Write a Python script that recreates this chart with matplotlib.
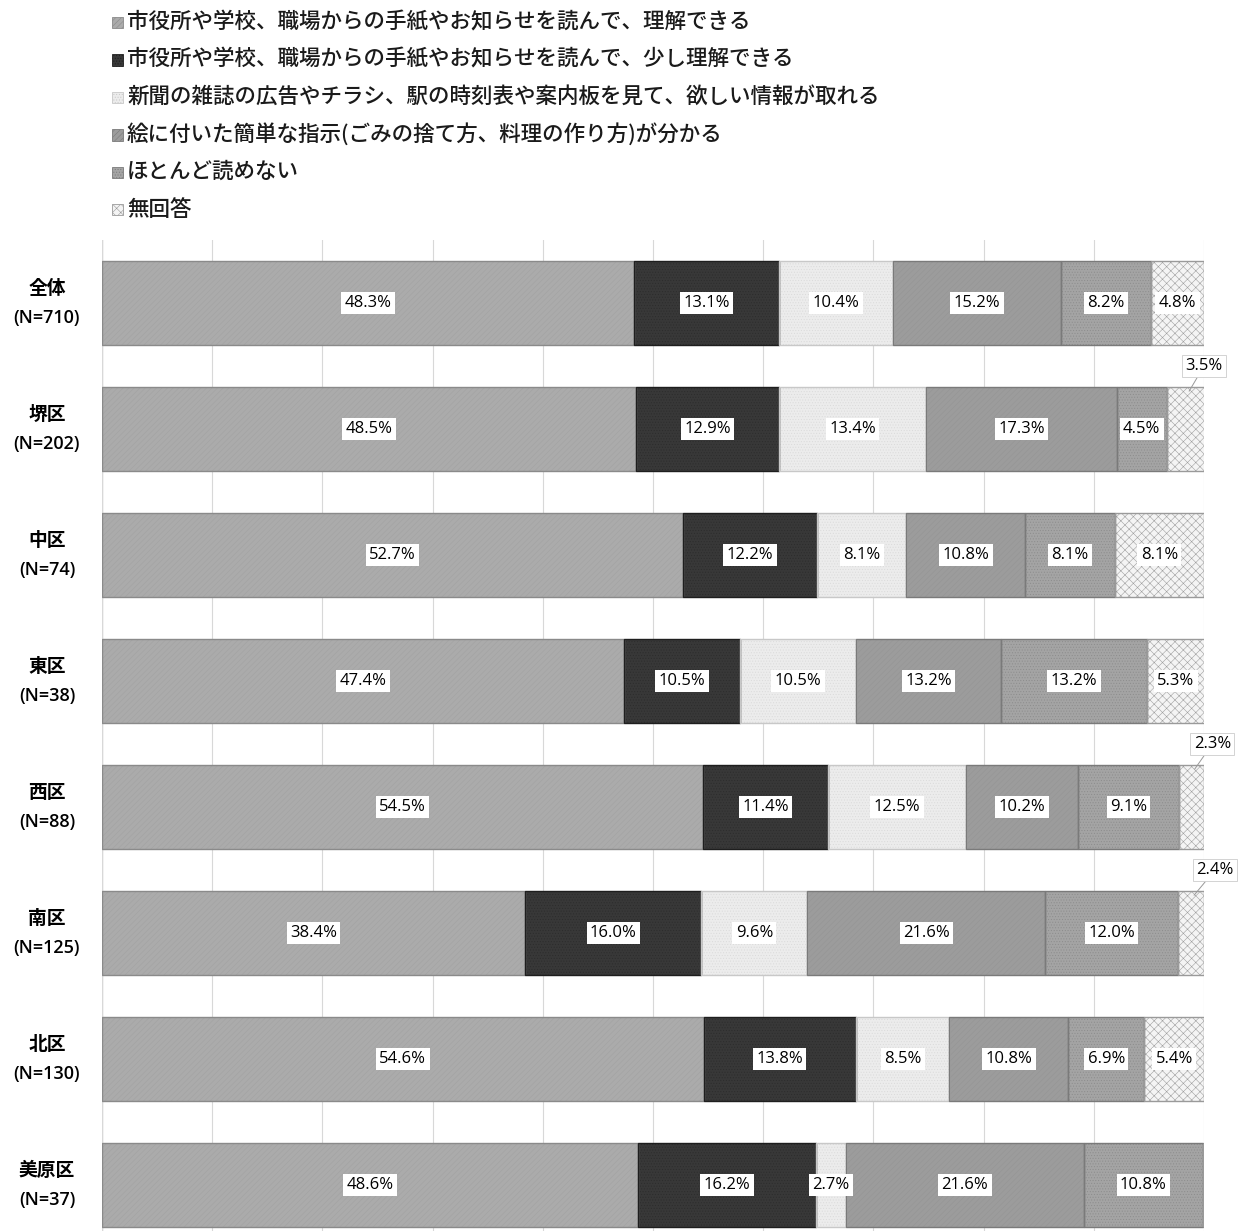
import matplotlib.pyplot as plt
from matplotlib.patches import Rectangle

plt.rcParams['font.family'] = ['Noto Sans CJK JP', 'DejaVu Sans']
plt.rcParams['hatch.linewidth'] = 0.4

categories = ['全体', '堺区', '中区', '東区', '西区', '南区', '北区', '美原区']
counts = ['N=710', 'N=202', 'N=74', 'N=38', 'N=88', 'N=125', 'N=130', 'N=37']

series_names = [
    '市役所や学校、職場からの手紙やお知らせを読んで、理解できる',
    '市役所や学校、職場からの手紙やお知らせを読んで、少し理解できる',
    '新聞の雑誌の広告やチラシ、駅の時刻表や案内板を見て、欲しい情報が取れる',
    '絵に付いた簡単な指示(ごみの捨て方、料理の作り方)が分かる',
    'ほとんど読めない',
    '無回答',
]

understand = [48.3, 48.5, 52.7, 47.4, 54.5, 38.4, 54.6, 48.6]
understand_little = [13.1, 12.9, 12.2, 10.5, 11.4, 16.0, 13.8, 16.2]
info = [10.4, 13.4, 8.1, 10.5, 12.5, 9.6, 8.5, 2.7]
pictures = [15.2, 17.3, 10.8, 13.2, 10.2, 21.6, 10.8, 21.6]
cannot_read = [8.2, 4.5, 8.1, 13.2, 9.1, 12.0, 6.9, 10.8]
no_answer = [4.8, 3.5, 8.1, 5.3, 2.3, 2.4, 5.4, 0.0]

series = [understand, understand_little, info, pictures, cannot_read, no_answer]

faces = ['#ababab', '#383838', '#ececec', '#9c9c9c', '#a4a4a4', '#f4f4f4']
hatches = ['//////', '......', '......', '//////', '......', 'xxxx']
hatch_cols = ['#a2a2a2', '#2c2c2c', '#dadada', '#959595', '#8c8c8c', '#a0a0a0']
edges = ['#8a8a8a', '#1e1e1e', '#c8c8c8', '#7a7a7a', '#7a7a7a', '#9a9a9a']

fig = plt.figure(figsize=(12.4, 12.31), dpi=100)
ax = fig.add_axes([102 / 1240, 0.0, (1204 - 102) / 1240, 1 - 240 / 1231])

ypos = list(range(len(categories)))
left = [0.0] * len(categories)
for k, vals in enumerate(series):
    ax.barh(ypos, vals, left=left, height=0.67, color=faces[k], edgecolor='none', zorder=2)
    ax.barh(ypos, vals, left=left, height=0.67, fill=False, hatch=hatches[k],
            edgecolor=hatch_cols[k], linewidth=0, zorder=3)
    ax.barh(ypos, vals, left=left, height=0.67, fill=False, edgecolor=edges[k],
            linewidth=1.0, zorder=4)
    for i, v in enumerate(vals):
        if v <= 0:
            continue
        cx = left[i] + v / 2
        if k == 5 and v < 4:
            # small values go above the bar with a leader line
            lx = 100.0 + (i - 1) * 0.25
            ly = i - 0.5
            ax.annotate(f'{v:.1f}%', xy=(cx + 0.3, i - 0.3), xytext=(lx, ly),
                        ha='center', va='center', fontsize=12, family='Open Sans',
                        annotation_clip=False, zorder=6,
                        bbox=dict(boxstyle='square,pad=0.2', fc='white', ec='#cccccc', lw=0.6),
                        arrowprops=dict(arrowstyle='-', color='#999999', lw=0.7,
                                        shrinkA=0, shrinkB=0))
        else:
            ax.text(cx, i, f'{v:.1f}%', ha='center', va='center', fontsize=12,
                    family='Open Sans', zorder=6,
                    bbox=dict(boxstyle='square,pad=0.2', fc='white', ec='none'))
        left[i] += v

ax.set_xlim(0, 100)
ax.set_ylim(7.365, -0.5)
ax.set_xticks(range(0, 101, 10))
ax.grid(axis='x', color='#d8d8d8', lw=0.8, zorder=0)
ax.tick_params(left=False, bottom=False, labelbottom=False, labelleft=False)
for s in ax.spines.values():
    s.set_visible(False)
ax.axvline(0, color='#c8c8c8', lw=1, zorder=1)

for i, (c, n) in enumerate(zip(categories, counts)):
    yc = 1 - (240 + (i + 0.5) * 126) / 1231
    fig.text(47 / 1240, yc + 15 / 1231, c, ha='center', va='center', fontsize=13.5, fontweight='bold')
    fig.text(47 / 1240, yc - 15 / 1231, f'({n})', ha='center', va='center', fontsize=13,
             family='Open Sans', fontweight='semibold')

for k, name in enumerate(series_names):
    yc = 1 - (22 + k * 37.5) / 1231
    sq = Rectangle((112 / 1240, yc - 6 / 1231), 11 / 1240, 11 / 1231, transform=fig.transFigure,
                   facecolor=faces[k], hatch=hatches[k], edgecolor=edges[k], lw=0.6)
    fig.patches.append(sq)
    fig.text(127 / 1240, yc, name, ha='left', va='center', fontsize=15.5, fontweight='medium',
             color='#1a1a1a')

fig.savefig('out.png', dpi=100, facecolor='white')
